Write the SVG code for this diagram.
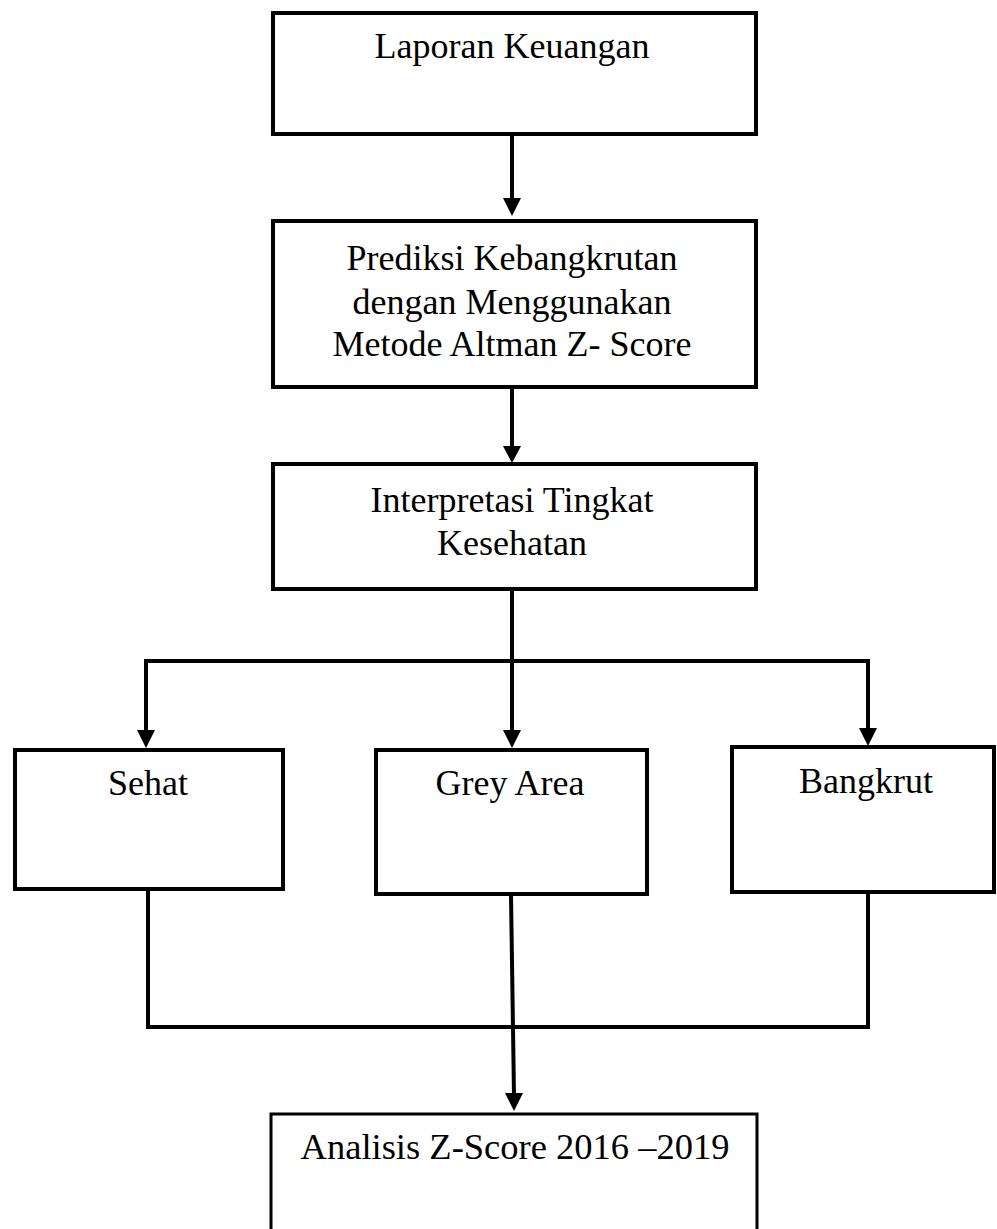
<svg xmlns="http://www.w3.org/2000/svg" width="997" height="1229" viewBox="0 0 997 1229">
<style>
.box{fill:#fff;stroke:#000;stroke-width:4}
.t{font-family:"Liberation Serif","Times New Roman",serif;font-size:36px;fill:#000;text-anchor:middle}
.c{fill:none;stroke:#000;stroke-width:4}
</style>
<rect width="997" height="1229" fill="#fff"/>
<g id="connectors">
<line class="c" x1="512" y1="135" x2="512" y2="200"/>
<path d="M503,198 L521,198 L512,216 Z"/>
<line class="c" x1="512" y1="388" x2="512" y2="448"/>
<path d="M503,446 L521,446 L512,463 Z"/>
<polyline class="c" points="512,590 512,733"/>
<polyline class="c" points="146,733 146,661 868,661 868,733"/>
<path d="M137,730 L155,730 L146,748 Z"/>
<path d="M503,730 L521,730 L512,748 Z"/>
<path d="M859,728 L877,728 L868,746 Z"/>
<polyline class="c" points="148,891 148,1027 868,1027 868,893"/>
<line class="c" x1="511" y1="895" x2="514" y2="1095"/>
<path d="M505,1093 L523,1093 L514,1111 Z"/>
</g>
<g id="n1"><rect class="box" x="273" y="13" width="483" height="121"/><text class="t" x="512" y="58">Laporan Keuangan</text></g>
<g id="n2"><rect class="box" x="273" y="221" width="483" height="166"/><text class="t" x="512" y="270">Prediksi Kebangkrutan</text><text class="t" x="512" y="314">dengan Menggunakan</text><text class="t" x="512" y="356">Metode Altman Z- Score</text></g>
<g id="n3"><rect class="box" x="273" y="464" width="483" height="125"/><text class="t" x="512" y="512">Interpretasi Tingkat</text><text class="t" x="512" y="555">Kesehatan</text></g>
<g id="n4"><rect class="box" x="15" y="750" width="268" height="139"/><text class="t" x="148" y="795">Sehat</text></g>
<g id="n5"><rect class="box" x="376" y="750" width="271" height="144"/><text class="t" x="510" y="795">Grey Area</text></g>
<g id="n6"><rect class="box" x="732" y="747" width="262" height="145"/><text class="t" x="866" y="793">Bangkrut</text></g>
<g id="n7"><rect class="box" x="271" y="1114" width="486" height="130" style="stroke-width:3"/><text class="t" x="515" y="1159" style="font-size:36.5px">Analisis Z-Score 2016 –2019</text></g>
</svg>
